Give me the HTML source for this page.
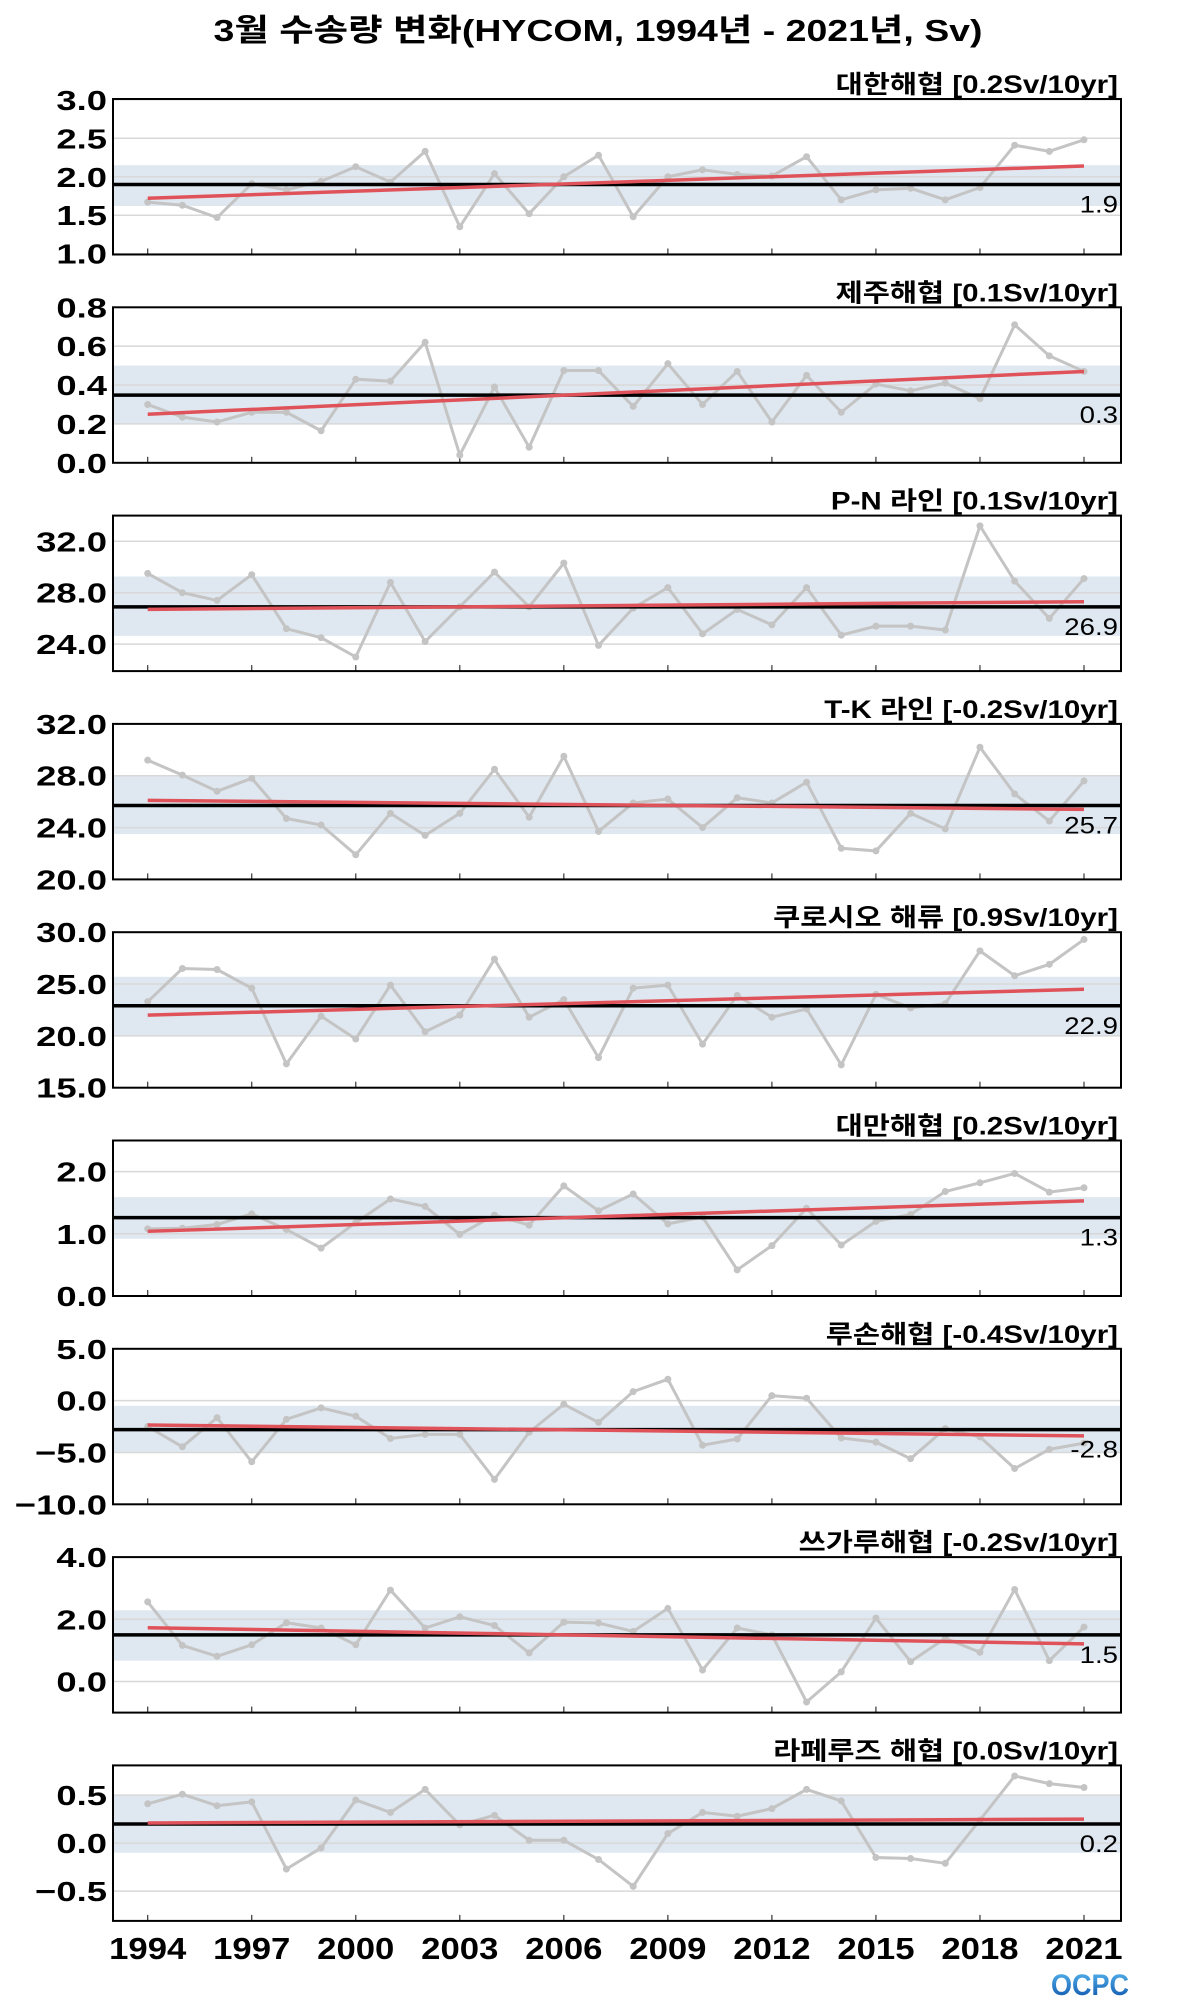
<!DOCTYPE html>
<html><head><meta charset="utf-8">
<style>
html,body{margin:0;padding:0;background:#fff;}
svg{display:block;}
text{font-family:"Liberation Sans","Noto Sans CJK KR",sans-serif;}
</style></head>
<body>
<svg id="chart" width="1200" height="2000" viewBox="0 0 1200 2000" xmlns="http://www.w3.org/2000/svg">
<text x="598" y="41" text-anchor="middle" font-size="31" font-weight="bold" textLength="769" lengthAdjust="spacingAndGlyphs">3월 수송량 변화(HYCOM, 1994년 - 2021년, Sv)</text>
<defs><linearGradient id="og" x1="0" y1="0" x2="0" y2="1"><stop offset="0" stop-color="#58b8f0"/><stop offset="1" stop-color="#0a4fa8"/></linearGradient></defs>
<text x="1090" y="1995" text-anchor="middle" font-size="30" font-weight="bold" fill="url(#og)" textLength="78" lengthAdjust="spacingAndGlyphs">OCPC</text>
</svg>
<script>
const years = [1994,1995,1996,1997,1998,1999,2000,2001,2002,2003,2004,2005,2006,2007,2008,2009,2010,2011,2012,2013,2014,2015,2016,2017,2018,2019,2020,2021];
const xTickYears = [1994,1997,2000,2003,2006,2009,2012,2015,2018,2021];
const panelTitles = ["대한해협 [0.2Sv/10yr]","제주해협 [0.1Sv/10yr]","P-N 라인 [0.1Sv/10yr]","T-K 라인 [-0.2Sv/10yr]","쿠로시오 해류 [0.9Sv/10yr]","대만해협 [0.2Sv/10yr]","루손해협 [-0.4Sv/10yr]","쓰가루해협 [-0.2Sv/10yr]","라페루즈 해협 [0.0Sv/10yr]"];
const s1 = [1.67,1.63,1.47,1.91,1.83,1.94,2.13,1.93,2.33,1.35,2.04,1.52,2.0,2.28,1.48,2.0,2.09,2.03,2.01,2.26,1.70,1.83,1.85,1.70,1.86,2.41,2.33,2.48];
const s2 = [0.30,0.235,0.21,0.26,0.26,0.165,0.43,0.42,0.62,0.04,0.39,0.08,0.475,0.475,0.29,0.51,0.30,0.47,0.21,0.45,0.26,0.405,0.37,0.41,0.33,0.71,0.55,0.47];
const s3 = [29.5,28.0,27.4,29.4,25.2,24.5,23.0,28.8,24.2,26.9,29.6,26.9,30.3,23.9,26.8,28.4,24.8,26.7,25.5,28.4,24.7,25.4,25.4,25.1,33.2,28.9,26.0,29.1];
const s4 = [29.2,28.05,26.8,27.8,24.7,24.2,21.9,25.1,23.4,25.1,28.5,24.8,29.5,23.7,25.9,26.2,24.0,26.3,25.9,27.5,22.4,22.2,25.1,23.9,30.2,26.6,24.5,27.6];
const s5 = [23.3,26.5,26.4,24.6,17.3,21.9,19.7,24.9,20.4,22.0,27.4,21.8,23.5,17.9,24.6,24.9,19.2,23.9,21.8,22.6,17.2,24.0,22.7,23.1,28.2,25.8,26.9,29.3];
const s6 = [1.08,1.09,1.15,1.32,1.07,0.77,1.18,1.56,1.44,0.99,1.30,1.14,1.77,1.37,1.64,1.16,1.27,0.42,0.81,1.41,0.82,1.2,1.31,1.68,1.82,1.97,1.67,1.74];
const s7 = [-2.5,-4.45,-1.65,-5.9,-1.8,-0.7,-1.5,-3.65,-3.25,-3.25,-7.6,-3.05,-0.35,-2.1,0.87,2.06,-4.3,-3.7,0.48,0.23,-3.6,-4.0,-5.6,-2.7,-3.5,-6.55,-4.7,-4.1];
const s8 = [2.56,1.16,0.81,1.18,1.89,1.72,1.18,2.94,1.72,2.08,1.8,0.92,1.91,1.88,1.61,2.35,0.37,1.72,1.5,-0.66,0.31,2.04,0.64,1.39,0.94,2.96,0.67,1.75];
const s9 = [0.41,0.51,0.39,0.43,-0.27,-0.05,0.45,0.32,0.56,0.19,0.29,0.03,0.03,-0.17,-0.45,0.10,0.32,0.28,0.36,0.56,0.44,-0.15,-0.16,-0.21,0.24,0.70,0.62,0.58];
const series = [s1,s2,s3,s4,s5,s6,s7,s8,s9];
const means = [1.9,0.348,26.9,25.7,22.9,1.26,-2.8,1.5,0.2];
const meanLabels = ["1.9","0.3","26.9","25.7","22.9","1.3","-2.8","1.5","0.2"];
const bandLo = [1.62,0.2,24.64,23.5,20.0,0.92,-5.0,0.67,-0.1];
const bandHi = [2.15,0.5,29.26,28.0,25.7,1.59,-0.5,2.29,0.5];
const trendStart = [1.72,0.25,26.7,26.1,22.0,1.04,-2.35,1.73,0.21];
const trendEnd = [2.14,0.47,27.3,25.4,24.5,1.53,-3.4,1.21,0.25];
const yMins = [0.99,0,21.9,20,15,0,-10,-1,-0.81];
const yMaxs = [3.01,0.8,34,32,30,2.5,5,4,0.81];
const yTicks = [[1.0,1.5,2.0,2.5,3.0],[0,0.2,0.4,0.6,0.8],[24,28,32],[20,24,28,32],[15,20,25,30],[0,1,2],[-10,-5,0,5],[0,2,4],[-0.5,0,0.5]];

const NS="http://www.w3.org/2000/svg";
const svg=document.getElementById('chart');
const L=113,R=1121,PH=155.5;
function xPos(yr){return 147.7+(yr-1994)*(1084-147.7)/27;}
function mk(tag,attrs,parent){const e=document.createElementNS(NS,tag);for(const k in attrs)e.setAttribute(k,attrs[k]);(parent||svg).appendChild(e);return e;}
function fmt(v){const s=v.toFixed(1);return v<0?'\u2212'+(-v).toFixed(1):s;}
function stretch(el,f){try{const w=el.getComputedTextLength();if(w>0){el.setAttribute('textLength',(w*f).toFixed(1));el.setAttribute('lengthAdjust','spacingAndGlyphs');}}catch(e){}}

for(let p=0;p<9;p++){
  const top=99+p*208.3,bot=top+PH;
  const yv=v=>bot-(v-yMins[p])/(yMaxs[p]-yMins[p])*PH;
  const g=mk('g',{});
  
  
  const band=mk('rect',{x:L,y:yv(bandHi[p]),width:R-L,height:yv(bandLo[p])-yv(bandHi[p]),fill:'#dfe8f1'},g);
  
  
  yTicks[p].forEach(t=>{
    const gl=mk('line',{x1:L,x2:R,y1:yv(t),y2:yv(t),stroke:'#d8d8d8','stroke-width':1.5},g);
    
    
    const tl=mk('text',{x:L-6,y:yv(t)+10,'text-anchor':'end','font-size':28,'font-weight':'bold'},g);
    
    
    tl.textContent=fmt(t);
    stretch(tl,1.3);
  });
  xTickYears.forEach(yr=>{
    const tk=mk('line',{x1:xPos(yr),x2:xPos(yr),y1:bot,y2:bot-6,stroke:'#333','stroke-width':1.2},g);
    
    
  });
  const pts=series[p].map((v,i)=>xPos(years[i])+','+yv(v)).join(' ');
  const ln=mk('polyline',{points:pts,fill:'none',stroke:'#c4c4c4','stroke-width':3},g);
  
  
  series[p].forEach((v,i)=>{
    const c=mk('circle',{cx:xPos(years[i]),cy:yv(v),r:3.5,fill:'#c4c4c4'},g);
    
    
  });
  const ml=mk('line',{x1:L,x2:R,y1:yv(means[p]),y2:yv(means[p]),stroke:'#000','stroke-width':3.5},g);
  
  
  const tr=mk('line',{x1:xPos(1994),x2:xPos(2021),y1:yv(trendStart[p]),y2:yv(trendEnd[p]),stroke:'#e0525a','stroke-width':3.5},g);
  
  
  const mt=mk('text',{x:1118,y:yv(means[p])+28,'text-anchor':'end','font-size':24},g);
  
  
  mt.textContent=meanLabels[p];
  stretch(mt,1.15);
  const fr=mk('rect',{x:L,y:top,width:R-L,height:PH,fill:'none',stroke:'#000','stroke-width':2},g);
  
  
  const pt=mk('text',{x:1118,y:top-6,'text-anchor':'end','font-size':25,'font-weight':'bold'},g);
  
  
  pt.textContent=panelTitles[p];
  stretch(pt,1.18);
  if(p===8){
    xTickYears.forEach(yr=>{
      const xl=mk('text',{x:xPos(yr),y:bot+38,'text-anchor':'middle','font-size':31,'font-weight':'bold'},g);
      
      
      xl.textContent=yr;
      stretch(xl,1.12);
    });
  }
}
</script>
</body></html>
